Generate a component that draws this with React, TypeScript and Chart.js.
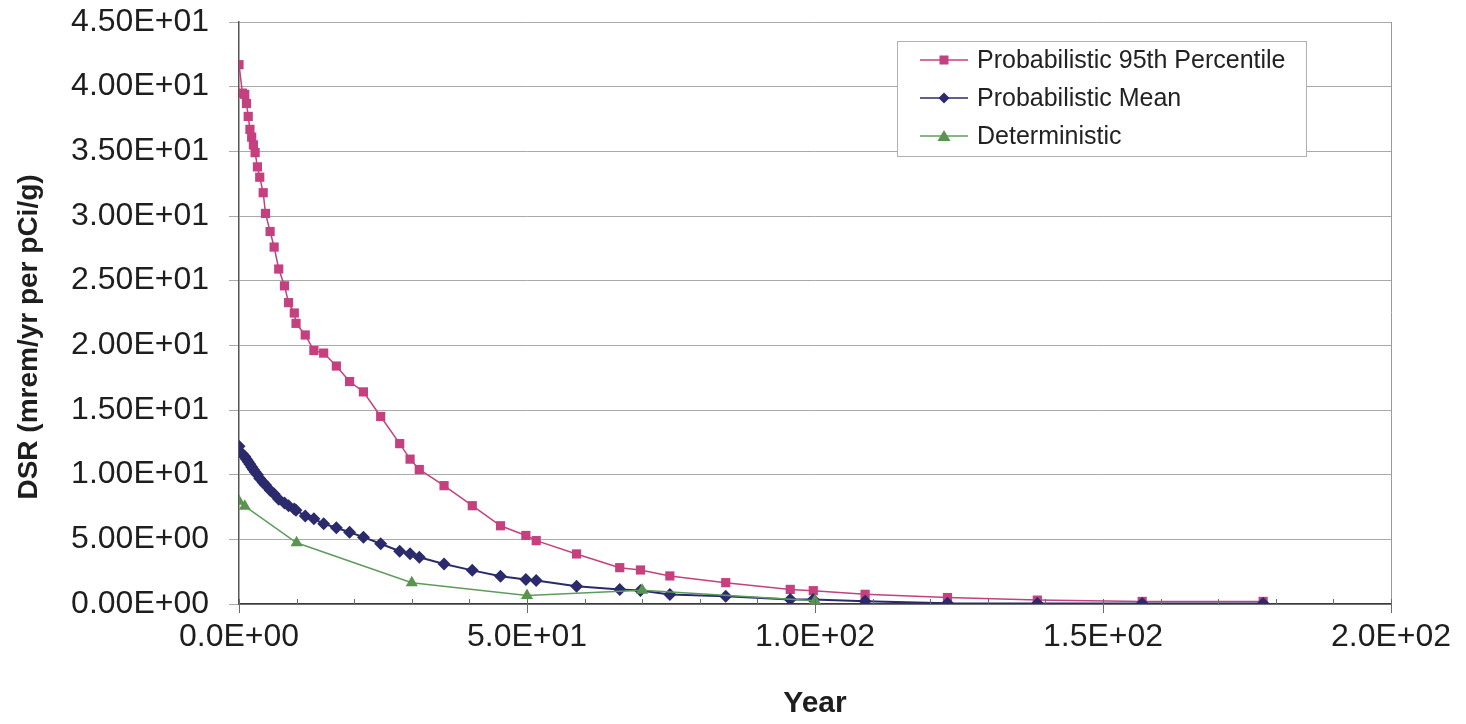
import React, { useEffect, useRef } from 'react';
import { Chart, registerables } from 'chart.js';

Chart.register(...registerables);

// Shared time axis (years) for the probabilistic series
const years = [
  0, 0.6, 1.0, 1.3, 1.6, 1.9, 2.2, 2.5, 2.8, 3.2,
  3.6, 4.2, 4.6, 5.4, 6.1, 6.9, 7.9, 8.6, 9.6, 9.9,
  11.5, 13.0, 14.7, 16.9, 19.2, 21.6, 24.6, 27.9, 29.7, 31.3,
  35.6, 40.5, 45.4, 49.8, 51.6, 58.6, 66.1, 69.7, 74.8, 84.5,
  95.7, 99.7, 108.7, 123.0, 138.6, 156.8, 177.8,
];

const p95 = [
  41.7, 39.5, 39.4, 38.7, 37.7, 36.7, 36.1, 35.5, 34.9, 33.8,
  33.0, 31.8, 30.2, 28.8, 27.6, 25.9, 24.6, 23.3, 22.5, 21.7,
  20.8, 19.6, 19.4, 18.4, 17.2, 16.4, 14.5, 12.4, 11.2, 10.4,
  9.15, 7.6, 6.05, 5.3, 4.9, 3.87, 2.81, 2.63, 2.17, 1.65,
  1.13, 1.03, 0.75, 0.5, 0.3, 0.2, 0.2,
];

const meanVals = [
  12.2, 11.6, 11.4, 11.2, 11.0, 10.8, 10.6, 10.4, 10.2, 10.0,
  9.7, 9.4, 9.2, 8.8, 8.5, 8.1, 7.8, 7.6, 7.35, 7.25,
  6.8, 6.6, 6.2, 5.9, 5.55, 5.17, 4.66, 4.08, 3.88, 3.62,
  3.1, 2.6, 2.15, 1.9, 1.82, 1.38, 1.12, 1.05, 0.73, 0.6,
  0.35, 0.35, 0.22, 0.05, 0.04, 0.03, 0.03,
];

const detYears = [0, 1, 10, 30, 50, 70, 100];
const detVals = [7.95, 7.56, 4.73, 1.64, 0.66, 1.07, 0.25];

const seriesNames = ['Probabilistic 95th Percentile', 'Probabilistic Mean', 'Deterministic'];
const xMajorTicks = [0, 50, 100, 150, 200];
const yTickStep = 5;

const PINK = '#C4407E';
const NAVY = '#2B2A6C';
const GREEN_LINE = '#5E9C5E';
const GREEN_MARK = '#5A9450';
const FONT = "'Liberation Sans', Arial, sans-serif";

function sci(v: number, digits: number): string {
  if (v === 0) return (0).toFixed(digits) + 'E+00';
  let exp = Math.floor(Math.log10(Math.abs(v)) + 1e-9);
  let mant = v / Math.pow(10, exp);
  if (Math.abs(mant) >= 9.9999) { mant /= 10; exp += 1; }
  const e = Math.abs(exp).toString().padStart(2, '0');
  return mant.toFixed(digits) + 'E' + (exp >= 0 ? '+' : '-') + e;
}

function drawMarker(ctx: CanvasRenderingContext2D, kind: string, x: number, y: number, color: string) {
  ctx.fillStyle = color;
  ctx.beginPath();
  if (kind === 'rect') {
    ctx.rect(x - 4.5, y - 4.5, 9, 9);
  } else if (kind === 'diamond') {
    ctx.moveTo(x, y - 5.5); ctx.lineTo(x + 5.5, y); ctx.lineTo(x, y + 5.5); ctx.lineTo(x - 5.5, y); ctx.closePath();
  } else {
    ctx.moveTo(x, y - 6); ctx.lineTo(x + 6.5, y + 5); ctx.lineTo(x - 6.5, y + 5); ctx.closePath();
  }
  ctx.fill();
}

const decorPlugin = {
  id: 'decor',
  afterDraw(chart: any) {
    const ctx: CanvasRenderingContext2D = chart.ctx;
    const xs = chart.scales.x;
    const area = chart.chartArea;
    ctx.save();
    // x-axis tick marks
    ctx.strokeStyle = '#6a6a6a';
    ctx.lineWidth = 1;
    for (let v = 0; v <= 200; v += 10) {
      const px = Math.round(xs.getPixelForValue(v)) + 0.5;
      const major = xMajorTicks.includes(v);
      ctx.beginPath();
      ctx.moveTo(px, area.bottom - 5);
      ctx.lineTo(px, area.bottom + (major ? 9 : 0));
      ctx.stroke();
    }
    // axis titles
    ctx.fillStyle = '#1e1e1e';
    ctx.font = `bold 30px ${FONT}`;
    ctx.textAlign = 'center';
    ctx.textBaseline = 'middle';
    ctx.fillText('Year', (area.left + area.right) / 2, 704);
    ctx.save();
    ctx.translate(29, 337);
    ctx.rotate(-Math.PI / 2);
    ctx.font = `bold 28px ${FONT}`;
    ctx.fillText('DSR (mrem/yr per pCi/g)', 0, 0);
    ctx.restore();

    // legend
    const bx = 897, by = 41, bw = 409, bh = 115;
    ctx.fillStyle = '#ffffff';
    ctx.fillRect(bx, by, bw, bh);
    ctx.strokeStyle = '#b0b0b0';
    ctx.lineWidth = 1;
    ctx.strokeRect(bx + 0.5, by + 0.5, bw, bh);
    const rows = [
      { name: seriesNames[0], line: PINK, mark: PINK, kind: 'rect' },
      { name: seriesNames[1], line: NAVY, mark: NAVY, kind: 'diamond' },
      { name: seriesNames[2], line: GREEN_LINE, mark: GREEN_MARK, kind: 'tri' },
    ];
    rows.forEach((r, i) => {
      const y = 60 + i * 38;
      ctx.strokeStyle = r.line;
      ctx.lineWidth = 1.5;
      ctx.beginPath();
      ctx.moveTo(920, y);
      ctx.lineTo(968, y);
      ctx.stroke();
      drawMarker(ctx, r.kind, 944, y, r.mark);
      ctx.fillStyle = '#222';
      ctx.font = `25px ${FONT}`;
      ctx.textAlign = 'left';
      ctx.textBaseline = 'middle';
      ctx.fillText(r.name, 977, y + 1);
    });
    ctx.restore();
  },
};

export default function App() {
  const ref = useRef<HTMLCanvasElement | null>(null);
  useEffect(() => {
    document.body.style.margin = '0';
    document.body.style.background = '#ffffff';
    if (!ref.current) return;
    const toPts = (xv: number[], yv: number[]) => xv.map((x, i) => ({ x, y: yv[i] }));
    const chart = new Chart(ref.current, {
      type: 'line',
      data: {
        datasets: [
          {
            label: seriesNames[0],
            data: toPts(years, p95),
            borderColor: PINK,
            backgroundColor: PINK,
            borderWidth: 1.5,
            pointStyle: 'rect',
            pointRadius: 6.5,
            pointBorderWidth: 0,
            order: 2,
          },
          {
            label: seriesNames[1],
            data: toPts(years, meanVals),
            borderColor: NAVY,
            backgroundColor: NAVY,
            borderWidth: 2,
            pointStyle: 'rectRot',
            pointRadius: 6.5,
            pointBorderWidth: 0,
            order: 1,
          },
          {
            label: seriesNames[2],
            data: toPts(detYears, detVals),
            borderColor: GREEN_LINE,
            backgroundColor: GREEN_MARK,
            borderWidth: 1.5,
            pointStyle: 'triangle',
            pointRadius: 7,
            pointBorderWidth: 0,
            order: 0,
          },
        ],
      },
      options: {
        responsive: false,
        animation: false,
        events: [],
        layout: { padding: { left: 0, top: 22, right: 75, bottom: 0 } },
        plugins: { legend: { display: false }, tooltip: { enabled: false } },
        elements: { line: { tension: 0 } },
        scales: {
          x: {
            type: 'linear',
            min: 0,
            max: 200,
            afterFit: (s: any) => { s.height = 120; s.paddingLeft = 0; s.paddingRight = 0; },
            afterBuildTicks: (s: any) => {
              const t = [];
              for (let v = 0; v <= 200; v += 10) t.push({ value: v });
              s.ticks = t;
            },
            ticks: {
              autoSkip: false,
              maxRotation: 0,
              padding: 14,
              color: '#1e1e1e',
              font: { family: FONT, size: 32 },
              callback: (v: any) => (xMajorTicks.includes(Number(v)) ? sci(Number(v), 1) : ''),
            },
            grid: {
              drawTicks: false,
              color: (c: any) => (c.tick && c.tick.value === 200 ? '#9a9a9a' : 'rgba(0,0,0,0)'),
            },
            border: { display: true, color: '#3a3a3a', width: 1.5 },
          },
          y: {
            type: 'linear',
            min: 0,
            max: 45,
            afterFit: (s: any) => { s.width = 239; s.paddingTop = 0; s.paddingBottom = 0; },
            ticks: {
              stepSize: yTickStep,
              padding: 20,
              color: '#1e1e1e',
              font: { family: FONT, size: 32 },
              callback: (v: any) => sci(Number(v), 2),
            },
            grid: { color: '#a9a9a9', lineWidth: 1, drawTicks: true, tickLength: 10 },
            border: { display: true, color: '#555555', width: 1.5 },
          },
        },
      },
      plugins: [decorPlugin],
    } as any);
    return () => chart.destroy();
  }, []);
  return (
    <div style={{ width: 1466, height: 724 }}>
      <canvas ref={ref} width={1466} height={724} style={{ display: 'block' }} />
    </div>
  );
}
